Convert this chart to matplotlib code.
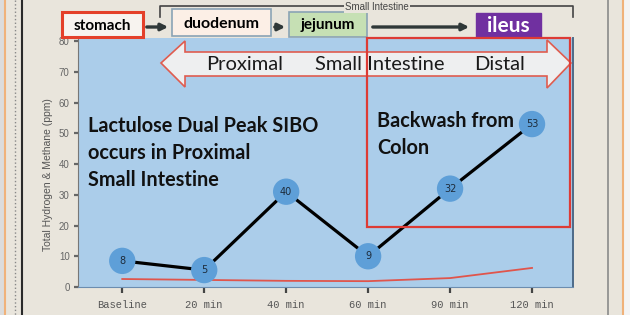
import matplotlib.pyplot as plt
from matplotlib.patches import Rectangle, Polygon

# breath test readings (plotted height) and the numbers written in the bubbles
times = ['Baseline', '20 min', '40 min', '60 min', '90 min', '120 min']
gas_ppm = [8.5, 5.5, 31, 10, 32, 53]
bubble_labels = ['8', '5', '40', '9', '32', '53']
red_curve = [2.6, 2.3, 2.0, 1.9, 2.9, 6.2]
yticks = [0, 10, 20, 30, 40, 50, 60, 70, 80]

gut_parts = ['stomach', 'duodenum', 'jejunum', 'ileus']
left_note = ['Lactulose Dual Peak SIBO', 'occurs in Proximal', 'Small Intestine']
right_note = ['Backwash from', 'Colon']

paper = '#e9e5dc'
fig = plt.figure(figsize=(6.3, 3.15), dpi=100, facecolor=paper)

# main chart, blue panel
ax = fig.add_axes([78/630, 28/315, 495/630, 249/315])
ax.set_facecolor('#abcdea')
x = list(range(len(times)))
ax.plot(x, red_curve, color='#e0554c', lw=1.3, zorder=2)
ax.plot(x, gas_ppm, color='black', lw=2.3, zorder=3)
ax.scatter(x, gas_ppm, s=360, color='#5e9fd8', edgecolors='none', zorder=4)
for xi, v, lab in zip(x, gas_ppm, bubble_labels):
    ax.text(xi, v, lab, ha='center', va='center', fontsize=7,
            color='#1d2b3a', zorder=5)
ax.set_xlim(-0.54, 5.5)
ax.set_ylim(0, 81)
ax.set_xticks(x)
ax.set_xticklabels(times, family='Liberation Mono', fontsize=7.5, color='#555555')
ax.set_yticks(yticks)
ax.set_yticklabels([str(t) for t in yticks], family='Liberation Sans',
                   fontsize=7, color='#666666')
ax.tick_params(axis='x', length=4, width=1.6, color='#444444', pad=5)
ax.tick_params(axis='y', length=3, width=1.6, color='#666666', pad=3)
ax.spines['top'].set_visible(False)
ax.spines['left'].set_color('#777777')
ax.spines['bottom'].set_color('#6c8db0')
ax.spines['right'].set_color('#4d6a88')
ax.spines['right'].set_linewidth(1.4)
ax.set_ylabel('Total Hydrogen & Methane (ppm)', family='Liberation Sans',
              fontsize=7.5, color='#555555')
ax.yaxis.set_label_coords(-0.05, 0.45)

# overlay in pixel coordinates for the slide decorations
ov = fig.add_axes([0, 0, 1, 1], zorder=10)
ov.set_xlim(0, 630)
ov.set_ylim(315, 0)
ov.axis('off')
ov.patch.set_alpha(0)

# page edges of the scanned sheet
ov.plot([5, 5], [0, 315], color='#f0b27a', lw=1.5)
ov.plot([22, 22], [0, 315], color='#2a2a2a', lw=1.5)
ov.plot([15, 15], [0, 315], color='#888888', lw=1, ls=':')
ov.plot([608, 608], [0, 315], color='#8a8a8a', lw=1.2)
ov.plot([623, 623], [0, 315], color='#f0b27a', lw=1.5)
ov.add_patch(Rectangle((624, 0), 6, 315, color='#f4f4f4'))
ov.add_patch(Rectangle((0, 0), 4, 315, color='#dcdcdc'))

# "Small Intestine" bracket
ov.plot([160, 160, 573, 573], [17, 6, 6, 17], color='#444444', lw=1.2)
ov.text(377, 7, 'Small Intestine', ha='center', va='center', fontsize=7,
        family='Liberation Sans', color='#444444',
        bbox=dict(facecolor=paper, edgecolor='none', pad=1))

# organ boxes
boxes = [(62, 12, 81, 25, '#f7f3ef', '#e4402a', 2.2, 'black', 11),
         (172, 9, 99, 27, '#fcefe6', '#8aa3b5', 1.2, 'black', 11.5),
         (289, 12, 78, 25, '#c6e0b4', '#8aa3b5', 1.2, 'black', 11),
         (476, 13, 65, 24, '#7030a0', '#7030a0', 1.0, 'white', 15)]
for name, (bx, by, bw, bh, fc, ec, lw, tc, fs) in zip(gut_parts, boxes):
    ov.add_patch(Rectangle((bx, by), bw, bh, facecolor=fc, edgecolor=ec, lw=lw))
    ov.text(bx + bw / 2, by + bh / 2 + 1, name, ha='center', va='center',
            fontsize=fs, fontweight='bold', family='Lato', color=tc)

for x0, x1 in [(144, 171), (272, 288), (370, 472)]:
    ov.annotate('', xy=(x1, 27), xytext=(x0, 27),
                arrowprops=dict(arrowstyle='-|>', color='#2f3838', lw=2.4,
                                mutation_scale=10))

# double-headed arrow across the top of the chart
arrow_pts = [(161, 63), (185, 41), (185, 52), (547, 52), (547, 40), (571, 63),
             (547, 88), (547, 76), (185, 76), (185, 87)]
ov.add_patch(Polygon(arrow_pts, closed=True, facecolor='#f1f1f1',
                     edgecolor='#e0584a', lw=1.2, alpha=0.97))
for tx, t in [(245, 'Proximal'), (380, 'Small Intestine'), (500, 'Distal')]:
    ov.text(tx, 65, t, ha='center', va='center', fontsize=14.5, family='Lato',
            color='#1a1a1a')

# distal region box
ov.add_patch(Rectangle((367, 38), 203, 189, facecolor='none',
                       edgecolor='#dd3b35', lw=1.6))

# notes, one text per line
for i, line in enumerate(left_note):
    ov.text(88, 126 + 27 * i, line, ha='left', va='center', fontsize=14.3,
            fontweight='bold', family='Lato', color='#111111')
for i, line in enumerate(right_note):
    ov.text(377, 121 + 27 * i, line, ha='left', va='center', fontsize=14.3,
            fontweight='bold', family='Lato', color='#111111')

fig.savefig('out.png', dpi=100, facecolor=paper)
